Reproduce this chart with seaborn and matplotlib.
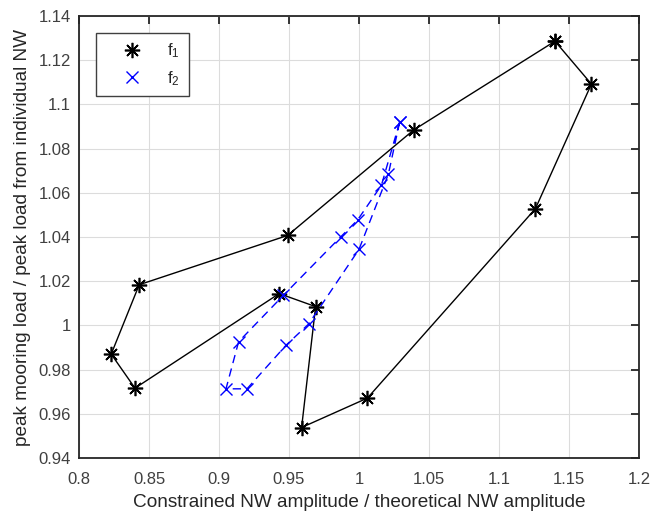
import numpy as np
import matplotlib
matplotlib.use("Agg")
import matplotlib.pyplot as plt
from matplotlib.lines import Line2D
from matplotlib.ticker import FuncFormatter, MultipleLocator
import seaborn as sns

# f1 loop (constrained amplitude ratio, peak load ratio)
f1_x = [1.140, 1.166, 1.126, 1.006, 0.959, 0.969, 0.943, 0.840, 0.823, 0.843, 0.949, 1.039]
f1_y = [1.1286, 1.1092, 1.0528, 0.9671, 0.9538, 1.0085, 1.0144, 0.9716, 0.9870, 1.0184, 1.0407, 1.0884]
# f2 loop
f2_x = [1.029, 1.016, 0.999, 0.987, 0.946, 0.914, 0.905, 0.920, 0.948, 0.964, 1.000, 1.021]
f2_y = [1.0919, 1.0634, 1.0477, 1.0401, 1.0136, 0.9926, 0.9713, 0.9713, 0.9911, 1.0006, 1.0344, 1.0685]

labels = ["f$_1$", "f$_2$"]

sns.set_theme(style="white")
plt.rcParams["font.family"] = ["Liberation Sans", "DejaVu Sans"]
plt.rcParams["mathtext.fontset"] = "custom"
plt.rcParams["mathtext.rm"] = "Liberation Sans"
plt.rcParams["mathtext.it"] = "Liberation Sans"

fig = plt.figure(figsize=(6.62, 5.14), dpi=100)
ax = fig.add_axes([79/662, 56/514, 560/662, 442/514])

ast = (8, 2, 0)
sns.lineplot(x=np.append(f1_x, f1_x[0]), y=np.append(f1_y, f1_y[0]), sort=False,
             estimator=None, color="black", lw=1.0, marker=ast, markersize=11,
             mew=1.2, mec="black", ax=ax)
sns.lineplot(x=np.append(f2_x, f2_x[0]), y=np.append(f2_y, f2_y[0]), sort=False,
             estimator=None, color=(0, 0, 1), lw=1.0, ls=(0, (6, 4)), marker="x",
             markersize=9, mew=1.0, mec=(0, 0, 1), ax=ax)

ax.set_xlim(0.8, 1.2)
ax.set_ylim(0.94, 1.14)
ax.xaxis.set_major_locator(MultipleLocator(0.05))
ax.yaxis.set_major_locator(MultipleLocator(0.02))
fmt = FuncFormatter(lambda v, p: f"{round(v, 4):g}")
ax.xaxis.set_major_formatter(fmt)
ax.yaxis.set_major_formatter(fmt)

ax.grid(True, color="#dcdcdc", lw=0.8)
ax.set_axisbelow(True)
for s in ax.spines.values():
    s.set_visible(True)
    s.set_color("#262626")
    s.set_linewidth(1.3)
ax.tick_params(direction="in", length=6, width=1.3, top=True, right=True,
               colors="#262626", labelsize=12, labelcolor="#404040")
ax.tick_params(axis="x", pad=10)
ax.tick_params(axis="y", pad=6)

ax.set_xlabel("Constrained NW amplitude / theoretical NW amplitude", fontsize=13.7,
              color="#262626", labelpad=5)
ax.set_ylabel("peak mooring load / peak load from individual NW", fontsize=13.7,
              color="#262626", labelpad=5)

handles = [
    Line2D([], [], ls="none", marker=ast, color="black", markersize=11, mew=1.2),
    Line2D([], [], ls="none", marker="x", color=(0, 0, 1), markersize=9, mew=1.0),
]
leg = ax.legend(handles, labels, loc="upper left", bbox_to_anchor=(0.030, 0.9615),
                fontsize=12, frameon=True, fancybox=False, handlelength=3.4,
                handletextpad=0.4, labelspacing=0.55, borderpad=0.5, borderaxespad=0.0)
leg.get_frame().set_edgecolor("#404040")
leg.get_frame().set_linewidth(1.0)
leg.get_frame().set_alpha(1)

fig.savefig("out.png", dpi=100)
